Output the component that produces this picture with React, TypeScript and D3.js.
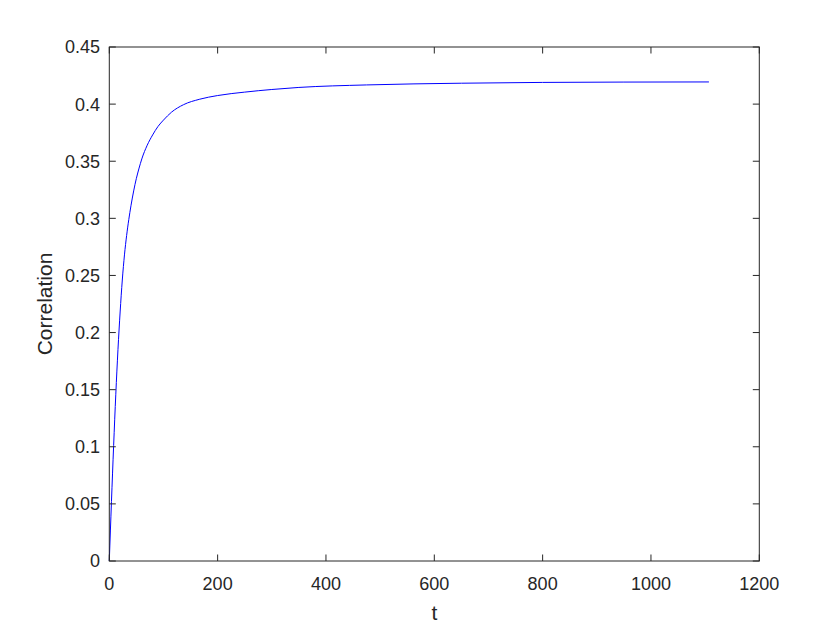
import React from "react";
import * as d3 from "d3";

const tValues = [0, 4, 8, 12, 16, 20, 24, 28, 32, 36, 40, 45, 50, 55, 60, 70, 80, 90, 100, 115, 137, 167, 200, 250, 300, 350, 475, 650, 800, 950, 1107];
const corrValues = [0, 0.052, 0.101, 0.146, 0.185, 0.218, 0.246, 0.268, 0.285, 0.299, 0.311, 0.324, 0.335, 0.344, 0.352, 0.364, 0.373, 0.3805, 0.386, 0.393, 0.3995, 0.4043, 0.4075, 0.4105, 0.4128, 0.4146, 0.4168, 0.4183, 0.419, 0.4193, 0.4194];
const xTicks = [0, 200, 400, 600, 800, 1000, 1200];
const yTicks = [0, 0.05, 0.1, 0.15, 0.2, 0.25, 0.3, 0.35, 0.4, 0.45];
const xLabel = "t";
const yLabel = "Correlation";

const W = 840, H = 630;
const left = 109.3, right = 759.3, top = 47, bottom = 561;
const axisColor = "#262626";
const font = "Arial, 'Liberation Sans', Helvetica, sans-serif";

export default function App() {
  const x = d3.scaleLinear().domain([0, 1200]).range([left, right]);
  const y = d3.scaleLinear().domain([0, 0.45]).range([bottom, top]);
  const pts = tValues.map((t, i) => [t, corrValues[i]] as [number, number]);
  const line = d3.line<[number, number]>().x(d => x(d[0])).y(d => y(d[1])).curve(d3.curveMonotoneX);
  const tl = 6.5;
  return (
    <svg width={W} height={H} style={{ position: "absolute", left: 0, top: 0, background: "#fff" }}>
      <rect x={0} y={0} width={W} height={H} fill="#fff" />
      <path d={line(pts) || ""} fill="none" stroke="#0000ff" strokeWidth={1} />
      <rect x={left} y={top} width={right - left} height={bottom - top} fill="none" stroke={axisColor} strokeWidth={1} />
      {xTicks.map(v => (
        <g key={"x" + v}>
          <line x1={x(v)} x2={x(v)} y1={bottom} y2={bottom - tl} stroke={axisColor} />
          <line x1={x(v)} x2={x(v)} y1={top} y2={top + tl} stroke={axisColor} />
          <text x={x(v)} y={590} textAnchor="middle" fontSize={18} fontFamily={font} fill={axisColor}>{String(v)}</text>
        </g>
      ))}
      {yTicks.map(v => (
        <g key={"y" + v}>
          <line x1={left} x2={left + tl} y1={y(v)} y2={y(v)} stroke={axisColor} />
          <line x1={right} x2={right - tl} y1={y(v)} y2={y(v)} stroke={axisColor} />
          <text x={100} y={y(v)} dy="0.36em" textAnchor="end" fontSize={18} fontFamily={font} fill={axisColor}>{String(+v.toFixed(2))}</text>
        </g>
      ))}
      <text x={(left + right) / 2} y={620} textAnchor="middle" fontSize={21} fontFamily={font} fill={axisColor}>{xLabel}</text>
      <text transform={`translate(52,${(top + bottom) / 2}) rotate(-90)`} textAnchor="middle" fontSize={21} fontFamily={font} fill={axisColor}>{yLabel}</text>
    </svg>
  );
}
